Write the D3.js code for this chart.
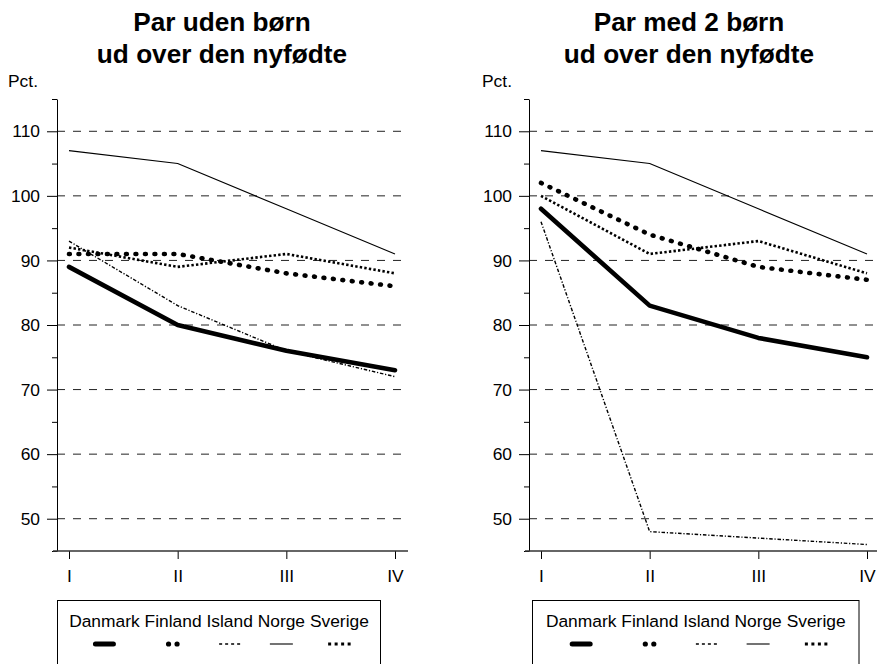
<!DOCTYPE html>
<html>
<head>
<meta charset="utf-8">
<script src="https://cdn.jsdelivr.net/npm/d3@7"></script>
<style>
  html, body { margin: 0; padding: 0; background: #fff; }
  svg { display: block; font-family: "Liberation Sans", Arial, Helvetica, sans-serif; }
</style>
</head>
<body>
<svg id="chart" width="877" height="664"></svg>
<script>
// ---- Data ----
const categories = ["I", "II", "III", "IV"];
const seriesNames = ["Danmark", "Finland", "Island", "Norge", "Sverige"];

// Panel 1: Par uden børn ud over den nyfødte
const udenDanmark = [89, 80, 76, 73];
const udenFinland = [91, 91, 88, 86];
const udenIsland  = [93, 83, 76, 72];
const udenNorge   = [107, 105, 98, 91];
const udenSverige = [92, 89, 91, 88];

// Panel 2: Par med 2 børn ud over den nyfødte
const medDanmark = [98, 83, 78, 75];
const medFinland = [102, 94, 89, 87];
const medIsland  = [96, 48, 47, 46];
const medNorge   = [107, 105, 98, 91];
const medSverige = [100, 91, 93, 88];

const yMajorTicks = [50, 60, 70, 80, 90, 100, 110];
const yMinorTicks = [45, 55, 65, 75, 85, 95, 105, 115];
const yDomain = [45, 115];

const titles1 = ["Par uden børn", "ud over den nyfødte"];
const titles2 = ["Par med 2 børn", "ud over den nyfødte"];
const yUnit = "Pct.";

// ---- Styles ----
const styles = {
  Danmark: { width: 4.6, dash: null, cap: "round", legDash: null, legW: 5, legCap: "round", legLen: 18 },
  Finland: { width: 4.6, dash: "0.8,8.7", cap: "round", legDash: "0,8.5", legW: 5.2, legCap: "round", legLen: 9 },
  Island:  { width: 1.4, dash: "3.5,1.8,1.2,1.8", cap: "butt", legDash: "3,3", legW: 1.3, legCap: "butt", legLen: 21 },
  Norge:   { width: 1.1, dash: null, cap: "butt", legDash: null, legW: 1.1, legCap: "butt", legLen: 23 },
  Sverige: { width: 2.6, dash: "2.4,2.2", cap: "butt", legDash: "3,3.5", legW: 3, legCap: "butt", legLen: 22.5 }
};

const svg = d3.select("#chart");
const FONT = 17.4;

function drawPanel(cfg) {
  const g = svg.append("g");
  const y = d3.scaleLinear().domain(yDomain).range([551, 99]);
  const x = d3.scalePoint().domain(categories).range([cfg.x0 + 12, cfg.xEnd4]);

  // Titles
  cfg.titles.forEach((t, i) => {
    g.append("text")
      .attr("x", cfg.titleCx).attr("y", 31 + i * 32)
      .attr("text-anchor", "middle")
      .attr("font-weight", "bold")
      .attr("font-size", 26.2)
      .attr("fill", "#000")
      .text(t);
  });

  // Unit label
  g.append("text")
    .attr("x", cfg.unitX).attr("y", 86.5)
    .attr("font-size", FONT)
    .text(yUnit);

  // Gridlines
  g.append("g").selectAll("line").data(yMajorTicks).join("line")
    .attr("x1", cfg.x0).attr("x2", cfg.gridEnd)
    .attr("y1", d => y(d)).attr("y2", d => y(d))
    .attr("stroke", "#222").attr("stroke-width", 1)
    .attr("stroke-dasharray", "8,8");

  // Y axis major
  const yAxis = d3.axisLeft(y).tickValues(yMajorTicks).tickSize(10).tickSizeOuter(0).tickPadding(7);
  const ya = g.append("g").attr("transform", `translate(${cfg.x0},0)`).call(yAxis);
  ya.selectAll("text").attr("font-size", FONT).attr("fill", "#000");
  ya.attr("font-family", null).attr("font-size", FONT);
  ya.selectAll("line").attr("stroke", "#000");
  ya.select(".domain").attr("stroke", "#000");
  // Y axis minor
  const yAxisMinor = d3.axisLeft(y).tickValues(yMinorTicks).tickSize(5).tickSizeOuter(0).tickFormat("");
  const ym = g.append("g").attr("transform", `translate(${cfg.x0},0)`).call(yAxisMinor);
  ym.select(".domain").remove();
  ym.selectAll("line").attr("stroke", "#000");

  // X axis
  const xAxis = d3.axisBottom(x).tickSize(8).tickSizeOuter(0).tickPadding(11);
  const xa = g.append("g").attr("transform", `translate(0,551)`).call(xAxis);
  xa.attr("font-family", null).attr("font-size", FONT);
  xa.select(".domain").remove();
  xa.selectAll("text").attr("font-size", FONT).attr("fill", "#000");
  xa.selectAll("line").attr("stroke", "#000");
  g.append("line")
    .attr("x1", cfg.x0 - 4).attr("x2", cfg.axisEnd)
    .attr("y1", 551).attr("y2", 551)
    .attr("stroke", "#333").attr("stroke-width", 1.3);

  // Lines
  const line = d3.line().x((d, i) => x(categories[i])).y(d => y(d));
  cfg.series.forEach((vals, k) => {
    const s = styles[seriesNames[k]];
    g.append("path")
      .datum(vals)
      .attr("d", line)
      .attr("fill", "none")
      .attr("stroke", "#000")
      .attr("stroke-width", s.width)
      .attr("stroke-linecap", s.cap)
      .attr("stroke-linejoin", "round")
      .attr("stroke-dasharray", s.dash);
  });

  // Legend
  const lg = g.append("g");
  lg.append("rect")
    .attr("x", cfg.legX).attr("y", 600.5)
    .attr("width", cfg.legW).attr("height", 100)
    .attr("fill", "#fff").attr("stroke", "#000").attr("stroke-width", 1);
  const temp = lg.append("text").attr("font-size", FONT).text("a b");
  const w1 = temp.node().getComputedTextLength();
  temp.text("ab");
  const spaceW = w1 - temp.node().getComputedTextLength();
  temp.remove();
  const widths = seriesNames.map(n => {
    const t = lg.append("text").attr("font-size", FONT).text(n);
    const w = t.node().getComputedTextLength();
    t.remove();
    return w;
  });
  const total = d3.sum(widths) + spaceW * (seriesNames.length - 1);
  let cx = cfg.legX + cfg.legW / 2 - total / 2;
  seriesNames.forEach((n, k) => {
    lg.append("text")
      .attr("x", cx).attr("y", 627)
      .attr("font-size", FONT).attr("fill", "#000")
      .text(n);
    const mid = cx + widths[k] / 2;
    const s = styles[n];
    lg.append("line")
      .attr("x1", mid - s.legLen / 2).attr("x2", mid + s.legLen / 2 + (n === "Finland" ? 0.6 : 0))
      .attr("y1", 644).attr("y2", 644)
      .attr("stroke", "#000")
      .attr("stroke-width", s.legW)
      .attr("stroke-linecap", s.legCap)
      .attr("stroke-dasharray", s.legDash);
    cx += widths[k] + spaceW;
  });
}

drawPanel({
  x0: 57, xEnd4: 395, gridEnd: 404, axisEnd: 408, titleCx: 222, unitX: 8,
  titles: titles1, legX: 57.5, legW: 323,
  series: [udenDanmark, udenFinland, udenIsland, udenNorge, udenSverige]
});
drawPanel({
  x0: 529, xEnd4: 867, gridEnd: 877, axisEnd: 877, titleCx: 689, unitX: 482,
  titles: titles2, legX: 532.5, legW: 326.5,
  series: [medDanmark, medFinland, medIsland, medNorge, medSverige]
});
</script>
</body>
</html>
